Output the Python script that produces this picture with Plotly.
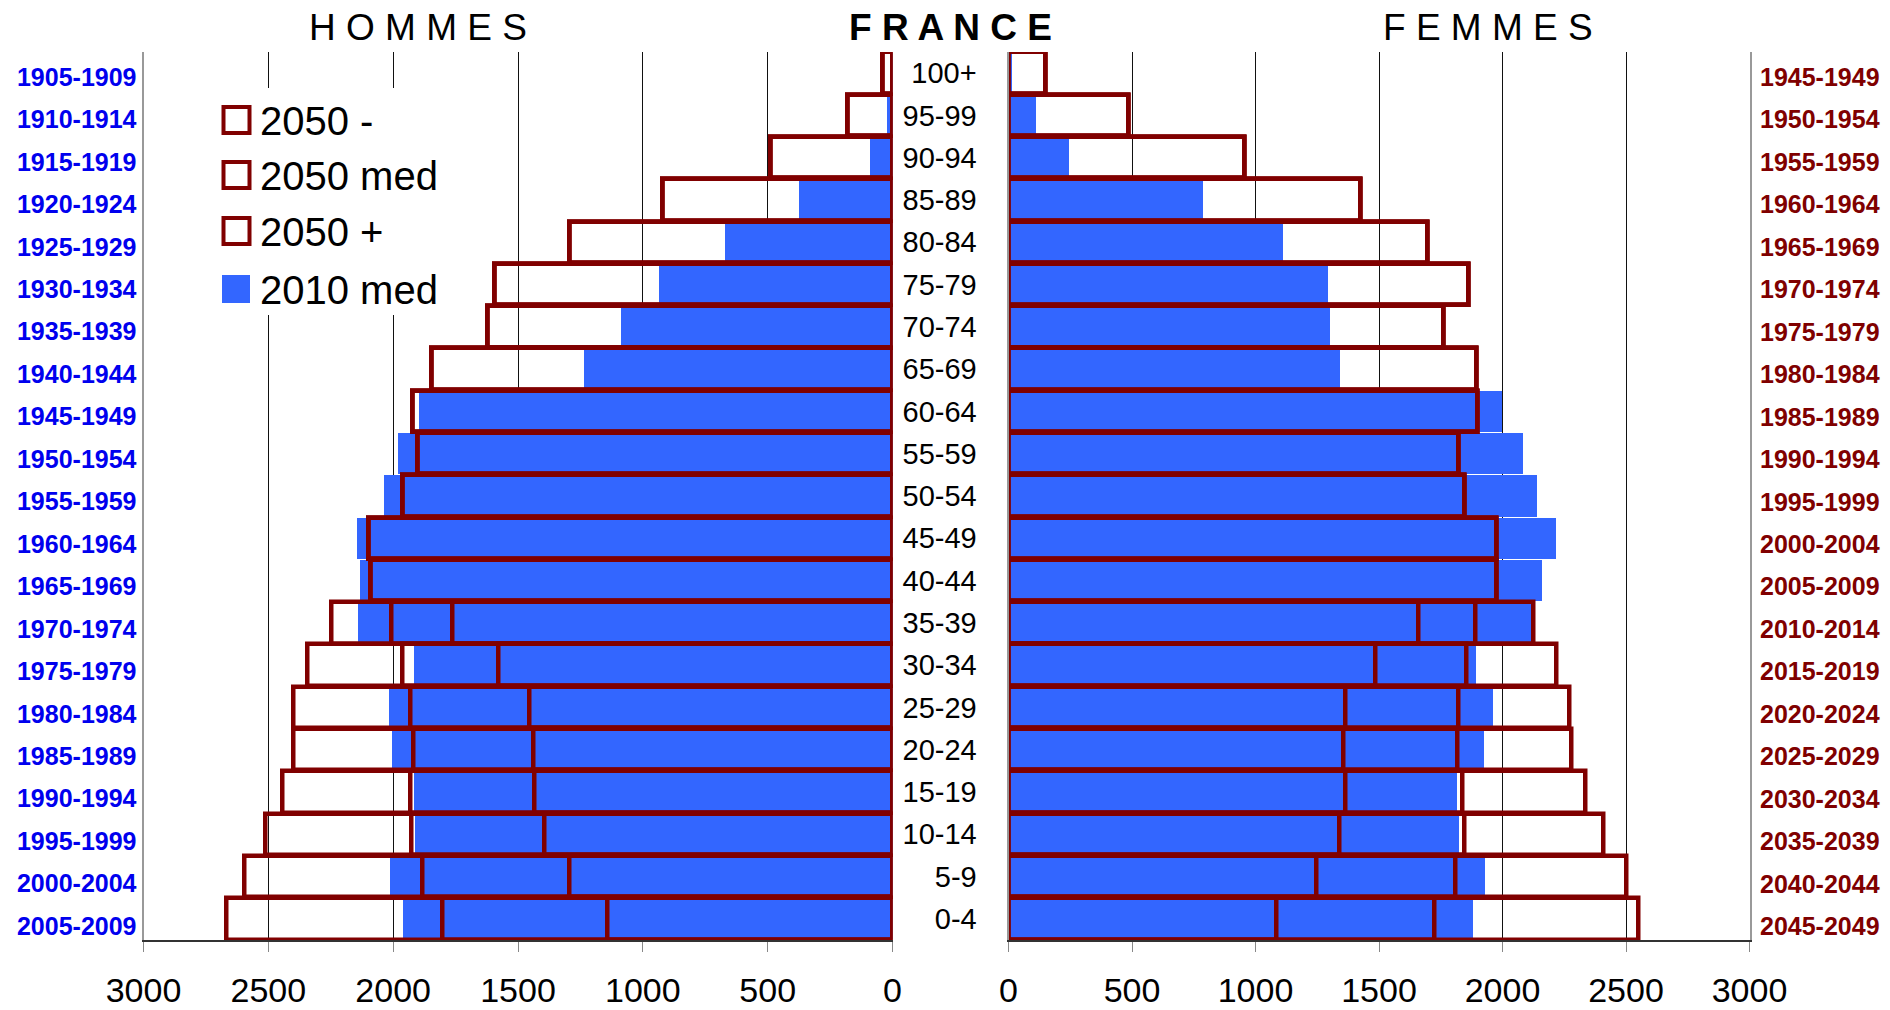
import plotly.graph_objects as go

W, H = 1890, 1010

# ---------------- data (bottom -> top) ----------------
ages = ["0-4", "5-9", "10-14", "15-19", "20-24", "25-29", "30-34", "35-39",
        "40-44", "45-49", "50-54", "55-59", "60-64", "65-69", "70-74",
        "75-79", "80-84", "85-89", "90-94", "95-99", "100+"]

births_2010 = ["2005-2009", "2000-2004", "1995-1999", "1990-1994", "1985-1989",
               "1980-1984", "1975-1979", "1970-1974", "1965-1969", "1960-1964",
               "1955-1959", "1950-1954", "1945-1949", "1940-1944", "1935-1939",
               "1930-1934", "1925-1929", "1920-1924", "1915-1919", "1910-1914",
               "1905-1909"]

births_2050 = ["2045-2049", "2040-2044", "2035-2039", "2030-2034", "2025-2029",
               "2020-2024", "2015-2019", "2010-2014", "2005-2009", "2000-2004",
               "1995-1999", "1990-1994", "1985-1989", "1980-1984", "1975-1979",
               "1970-1974", "1965-1969", "1960-1964", "1955-1959", "1950-1954",
               "1945-1949"]

# Hommes (thousands)
men_2010_med = [1962, 2013, 1915, 1917, 2005, 2017, 1917, 2142, 2133, 2146, 2040,
                1982, 1898, 1237, 1090, 937, 674, 377, 91, 24, 3]
men_2050_low = [1140, 1293, 1395, 1432, 1438, 1454, 1580, 1764, 2092, 2100, 1962,
                1903, 1923, 1845, 1622, 1595, 1295, 920, 487, 180, 40]
men_2050_med = [1803, 1882, 1928, 1932, 1917, 1930, 1964, 2007, 2092, 2100, 1962,
                1903, 1923, 1845, 1622, 1595, 1295, 920, 487, 180, 40]
men_2050_high = [2668, 2597, 2513, 2444, 2399, 2399, 2344, 2248, 2092, 2100, 1962,
                 1903, 1923, 1845, 1622, 1595, 1295, 920, 487, 180, 40]

# Femmes (thousands)
women_2010_med = [1878, 1928, 1821, 1812, 1922, 1959, 1891, 2118, 2157, 2215, 2139,
                  2082, 1997, 1342, 1300, 1290, 1111, 787, 243, 110, 12]
women_2050_low = [1085, 1248, 1341, 1364, 1358, 1366, 1484, 1660, 1977, 1975, 1848,
                  1820, 1898, 1894, 1760, 1862, 1696, 1425, 957, 485, 148]
women_2050_med = [1725, 1810, 1845, 1839, 1816, 1821, 1854, 1891, 1977, 1975, 1848,
                  1820, 1898, 1894, 1760, 1862, 1696, 1425, 957, 485, 148]
women_2050_high = [2552, 2502, 2409, 2335, 2281, 2271, 2217, 2124, 1977, 1975, 1848,
                   1820, 1898, 1894, 1760, 1862, 1696, 1425, 957, 485, 148]

x_ticks = [0, 500, 1000, 1500, 2000, 2500, 3000]

# ---------------- styles ----------------
BLUE = "#3366FF"
DRED = "#800000"
FONT = "Arial, Liberation Sans, sans-serif"


def px(x):
    return x / W


def py(y):
    return 1 - y / H


pos = list(range(len(ages)))
# the birth-year labels sit slightly lower than the row centres in the original
lbl_pos = [round(-0.17 + 1.004 * i, 3) for i in pos]

fig = go.Figure()


def add_side(xa, ya, v2010, vlow, vmed, vhigh):
    fig.add_trace(go.Bar(x=v2010, y=pos, orientation="h", xaxis=xa, yaxis=ya,
                         width=0.97, marker=dict(color=BLUE, line=dict(width=0)),
                         name="2010 med", hoverinfo="x"))
    for vals, nm in [(vhigh, "2050 +"), (vmed, "2050 med"), (vlow, "2050 -")]:
        fig.add_trace(go.Bar(x=vals, y=pos, orientation="h", xaxis=xa, yaxis=ya,
                             width=0.98,
                             marker=dict(color="rgba(0,0,0,0)",
                                         line=dict(color=DRED, width=4.5)),
                             name=nm, hoverinfo="x"))


add_side("x", "y", men_2010_med, men_2050_low, men_2050_med, men_2050_high)
add_side("x2", "y2", women_2010_med, women_2050_low, women_2050_med, women_2050_high)

xdom_l = [px(143.5), px(892.5)]
xdom_r = [px(1008.5), px(1749.5)]
ydom = [py(940), py(52)]
yrange = [-0.5, len(ages) - 0.5]

xcommon = dict(tickvals=x_ticks, ticktext=[str(t) for t in x_ticks],
               tickfont=dict(family=FONT, size=34, color="black"),
               ticks="outside", ticklen=10, tickcolor="#888", tickwidth=1,
               ticklabelstandoff=9,
               showgrid=True, gridcolor="#111", gridwidth=1, zeroline=False,
               showline=True, linecolor="#333", linewidth=2, fixedrange=True)
xtop = dict(showline=True, linecolor="#999", linewidth=2, showticklabels=False,
            showgrid=False, ticks="", zeroline=False, fixedrange=True)

fig.update_layout(
    width=W, height=H,
    margin=dict(l=0, r=0, t=0, b=0, autoexpand=False),
    paper_bgcolor="white", plot_bgcolor="white",
    barmode="overlay", bargap=0, showlegend=False,
    font=dict(family=FONT, color="black"),
    xaxis=dict(domain=xdom_l, range=[3000, 0], anchor="y", **xcommon),
    xaxis2=dict(domain=xdom_r, range=[0, 3000], anchor="y2", **xcommon),
    xaxis3=dict(overlaying="x", side="top", anchor="y", range=[3000, 0], **xtop),
    xaxis4=dict(overlaying="x2", side="top", anchor="y2", range=[0, 3000], **xtop),
    yaxis=dict(domain=ydom, range=yrange, anchor="x", side="left",
               tickvals=lbl_pos, ticktext=births_2010,
               tickfont=dict(family=FONT, size=25, color="#0000EE", weight="bold"),
               ticks="", showgrid=False, zeroline=False, showline=True,
               linecolor="#999", linewidth=2, ticklabelstandoff=0, fixedrange=True),
    yaxis2=dict(domain=ydom, range=yrange, anchor="x2", side="left",
                tickvals=pos, ticktext=ages,
                tickfont=dict(family=FONT, size=29, color="black"),
                ticks="", showgrid=False, zeroline=False, showline=True,
                mirror=True, linecolor="#999", linewidth=2,
                ticklabelstandoff=24, fixedrange=True),
)

# 2050 birth-cohort labels on the right of the FEMMES panel
for lab, yv in zip(births_2050, lbl_pos):
    fig.add_annotation(text=lab, xref="paper", yref="y2", x=px(1758), y=yv,
                       xanchor="left", yanchor="middle", showarrow=False,
                       font=dict(family=FONT, size=25, color=DRED, weight="bold"))

# titles
titles = [("H O M M E S", 418, "normal"), ("F R A N C E", 950, "bold"),
          ("F E M M E S", 1488, "normal")]
for txt, xc, wt in titles:
    fig.add_annotation(text=txt, x=px(xc), y=py(27), xref="paper", yref="paper",
                       xanchor="center", yanchor="middle", showarrow=False,
                       font=dict(family=FONT, size=37, color="black", weight=wt))

# legend (drawn manually to reproduce the large swatches)
fig.add_shape(type="rect", xref="paper", yref="paper", layer="above",
              x0=px(150), x1=px(470), y0=py(315), y1=py(88),
              fillcolor="white", line=dict(width=0))
legend_items = [("2050 -", 120, False), ("2050 med", 175, False),
                ("2050 +", 231, False), ("2010 med", 289, True)]
for label, yc, filled in legend_items:
    if filled:
        fig.add_shape(type="rect", xref="paper", yref="paper", layer="above",
                      x0=px(222), x1=px(250), y0=py(yc + 14), y1=py(yc - 14),
                      fillcolor=BLUE, line=dict(width=0))
    else:
        fig.add_shape(type="rect", xref="paper", yref="paper", layer="above",
                      x0=px(223.5), x1=px(249.5), y0=py(yc + 13), y1=py(yc - 13),
                      fillcolor="white", line=dict(color=DRED, width=4))
    fig.add_annotation(text=label, x=px(258), y=py(yc + 1), xref="paper", yref="paper",
                       xanchor="left", yanchor="middle", showarrow=False,
                       font=dict(family=FONT, size=40, color="black"))

fig.write_html("out.html", post_script="document.body.style.margin='0px';",
               config={"displayModeBar": False})
